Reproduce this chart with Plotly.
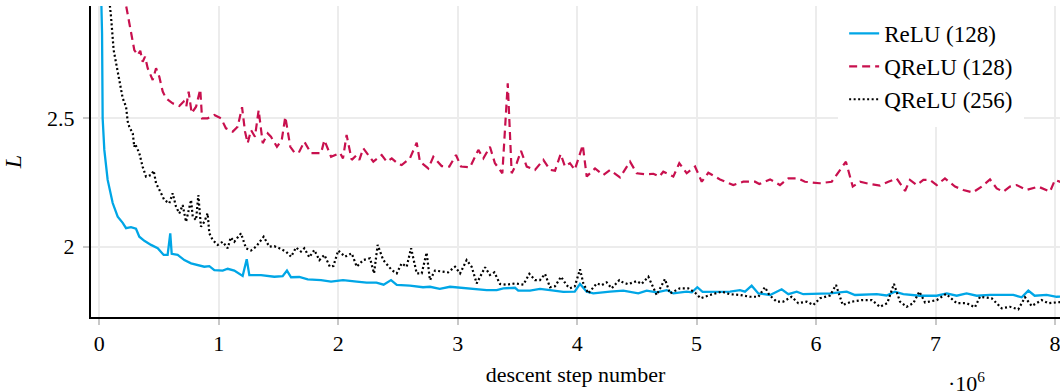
import plotly.graph_objects as go

# ---- data ----
relu_x = [0.0, 0.012, 0.023, 0.028, 0.042, 0.07, 0.112, 0.154, 0.196, 0.224, 0.265, 0.307, 0.335, 0.377,
          0.433, 0.489, 0.539, 0.572, 0.594, 0.606, 0.656, 0.712, 0.768, 0.824, 0.879, 0.921, 0.963, 1.033,
          1.075, 1.13, 1.20, 1.234, 1.256, 1.354, 1.465, 1.535, 1.571, 1.605, 1.674, 1.745, 1.856, 1.94,
          2.04, 2.155, 2.238, 2.32, 2.38, 2.442, 2.49, 2.60, 2.71, 2.768, 2.85, 2.936, 3.047, 3.13, 3.243,
          3.327, 3.382, 3.48, 3.507, 3.605, 3.689, 3.773, 3.884, 3.98, 4.024, 4.08, 4.135, 4.275, 4.386,
          4.512, 4.582, 4.666, 4.75, 4.805, 4.917, 4.96, 5.006, 5.05, 5.196, 5.28, 5.363, 5.405, 5.461,
          5.517, 5.615, 5.712, 5.768, 5.838, 5.893, 6.033, 6.117, 6.257, 6.326, 6.508, 6.59, 6.66, 6.73,
          6.87, 7.01, 7.094, 7.177, 7.26, 7.345, 7.456, 7.54, 7.651, 7.721, 7.777, 7.83, 7.93, 8.014, 8.06]
relu_y = [3.7, 3.05, 2.83, 2.50, 2.377, 2.26, 2.17, 2.117, 2.093, 2.072, 2.076, 2.070, 2.039, 2.023,
          2.007, 1.994, 1.968, 1.968, 2.052, 1.972, 1.968, 1.948, 1.935, 1.929, 1.922, 1.924, 1.909, 1.907,
          1.914, 1.907, 1.886, 1.951, 1.889, 1.889, 1.883, 1.885, 1.907, 1.881, 1.882, 1.873, 1.870, 1.864,
          1.870, 1.864, 1.860, 1.860, 1.852, 1.870, 1.851, 1.848, 1.842, 1.844, 1.836, 1.844, 1.839, 1.834, 1.831,
          1.831, 1.838, 1.840, 1.829, 1.829, 1.836, 1.831, 1.824, 1.825, 1.855, 1.825, 1.818, 1.825, 1.829,
          1.818, 1.829, 1.822, 1.831, 1.818, 1.825, 1.822, 1.842, 1.824, 1.825, 1.825, 1.831, 1.825, 1.848,
          1.818, 1.812, 1.834, 1.815, 1.825, 1.815, 1.818, 1.818, 1.825, 1.812, 1.815, 1.810, 1.825, 1.815,
          1.809, 1.809, 1.818, 1.809, 1.818, 1.809, 1.812, 1.812, 1.812, 1.803, 1.829, 1.809, 1.812, 1.805, 1.806]

qrelu128_x = [0.0, 0.1, 0.18, 0.224, 0.238, 0.265, 0.293, 0.321, 0.343, 0.363, 0.383, 0.405, 0.447, 0.475,
              0.502, 0.531, 0.558, 0.614, 0.67, 0.706, 0.728, 0.748, 0.773, 0.81, 0.845, 0.86, 0.907, 0.963,
              1.019, 1.06, 1.117, 1.158, 1.195, 1.22, 1.242, 1.27, 1.303, 1.334, 1.368, 1.41, 1.437, 1.487,
              1.527, 1.557, 1.599, 1.638, 1.674, 1.716, 1.772, 1.856, 1.884, 1.94, 1.973, 2.015, 2.04, 2.07,
              2.113, 2.15, 2.177, 2.21, 2.252, 2.294, 2.364, 2.406, 2.448, 2.503, 2.531, 2.60, 2.657, 2.684,
              2.754, 2.796, 2.866, 2.93, 2.986, 3.028, 3.103, 3.173, 3.215, 3.27, 3.312, 3.374, 3.419, 3.452,
              3.494, 3.53, 3.578, 3.647, 3.717, 3.773, 3.815, 3.862, 3.898, 3.94, 3.98, 4.047, 4.08, 4.15,
              4.219, 4.275, 4.359, 4.443, 4.499, 4.568, 4.638, 4.688, 4.721, 4.805, 4.855, 4.917, 4.987, 5.043,
              5.098, 5.196, 5.307, 5.391, 5.489, 5.525, 5.615, 5.698, 5.768, 5.851, 5.907, 6.03, 6.131, 6.20,
              6.25, 6.307, 6.368, 6.452, 6.535, 6.605, 6.675, 6.745, 6.786, 6.842, 6.898, 6.954, 7.01, 7.079,
              7.163, 7.233, 7.311, 7.386, 7.456, 7.512, 7.567, 7.623, 7.679, 7.763, 7.86, 7.958, 8.0, 8.06]
qrelu128_y = [4.5, 3.4, 3.05, 2.935, 2.896, 2.831, 2.766, 2.746, 2.763, 2.720, 2.740, 2.695, 2.649, 2.695,
              2.662, 2.604, 2.578, 2.558, 2.548, 2.565, 2.545, 2.604, 2.520, 2.545, 2.613, 2.500, 2.500, 2.513,
              2.500, 2.461, 2.448, 2.467, 2.543, 2.448, 2.403, 2.454, 2.428, 2.532, 2.403, 2.441, 2.428, 2.389,
              2.415, 2.506, 2.389, 2.364, 2.370, 2.409, 2.364, 2.364, 2.415, 2.350, 2.357, 2.365, 2.344, 2.435,
              2.338, 2.355, 2.338, 2.383, 2.357, 2.331, 2.357, 2.331, 2.344, 2.322, 2.318, 2.344, 2.405, 2.331,
              2.305, 2.350, 2.314, 2.312, 2.357, 2.312, 2.309, 2.377, 2.344, 2.389, 2.325, 2.286, 2.636, 2.286,
              2.325, 2.373, 2.312, 2.299, 2.338, 2.299, 2.296, 2.361, 2.312, 2.325, 2.299, 2.396, 2.273, 2.305,
              2.279, 2.299, 2.270, 2.331, 2.286, 2.282, 2.284, 2.273, 2.292, 2.273, 2.325, 2.286, 2.312, 2.253,
              2.288, 2.262, 2.240, 2.253, 2.253, 2.244, 2.262, 2.240, 2.266, 2.266, 2.253, 2.247, 2.253, 2.299,
              2.331, 2.234, 2.253, 2.244, 2.238, 2.253, 2.266, 2.217, 2.260, 2.240, 2.260, 2.260, 2.240, 2.266,
              2.234, 2.221, 2.211, 2.234, 2.262, 2.227, 2.214, 2.234, 2.240, 2.221, 2.234, 2.214, 2.260, 2.25]

qrelu256_x = [0.0, 0.04, 0.084, 0.098, 0.12, 0.154, 0.182, 0.196, 0.224, 0.238, 0.251, 0.28, 0.293, 0.30,
              0.335, 0.363, 0.391, 0.433, 0.455, 0.475, 0.517, 0.544, 0.586, 0.614, 0.642, 0.67, 0.698, 0.726,
              0.768, 0.782, 0.81, 0.829, 0.851, 0.879, 0.907, 0.921, 0.949, 0.991, 1.033, 1.075, 1.10, 1.13,
              1.158, 1.186, 1.228, 1.27, 1.312, 1.376, 1.423, 1.465, 1.507, 1.563, 1.605, 1.647, 1.688, 1.716,
              1.758, 1.80, 1.842, 1.884, 1.93, 1.96, 2.0, 2.057, 2.113, 2.155, 2.21, 2.266, 2.30, 2.33, 2.377,
              2.448, 2.49, 2.531, 2.573, 2.61, 2.657, 2.699, 2.74, 2.768, 2.81, 2.88, 2.92, 2.978, 3.02, 3.075,
              3.117, 3.159, 3.229, 3.27, 3.307, 3.354, 3.41, 3.48, 3.55, 3.60, 3.647, 3.689, 3.731, 3.773,
              3.815, 3.865, 3.912, 3.94, 3.98, 4.024, 4.052, 4.093, 4.164, 4.205, 4.247, 4.289, 4.353, 4.386,
              4.428, 4.499, 4.54, 4.596, 4.666, 4.735, 4.777, 4.861, 4.93, 4.987, 5.034, 5.112, 5.21, 5.28,
              5.363, 5.447, 5.517, 5.572, 5.609, 5.67, 5.726, 5.796, 5.851, 5.922, 5.977, 6.033, 6.117, 6.167,
              6.223, 6.298, 6.382, 6.466, 6.535, 6.596, 6.652, 6.703, 6.759, 6.814, 6.864, 6.912, 7.01, 7.088,
              7.177, 7.26, 7.33, 7.372, 7.47, 7.554, 7.623, 7.693, 7.749, 7.805, 7.889, 7.944, 8.028, 8.06]
qrelu256_y = [4.2, 3.35, 2.96, 2.896, 2.766, 2.688, 2.623, 2.578, 2.545, 2.487, 2.467, 2.441, 2.389, 2.40,
              2.364, 2.311, 2.273, 2.279, 2.296, 2.247, 2.208, 2.182, 2.169, 2.208, 2.156, 2.130, 2.162, 2.097,
              2.182, 2.117, 2.104, 2.201, 2.078, 2.097, 2.130, 2.052, 2.026, 2.007, 2.019, 1.994, 2.036, 2.019,
              2.036, 2.052, 1.994, 1.985, 2.000, 2.039, 2.000, 2.002, 1.994, 1.981, 1.961, 1.997, 1.981, 1.994,
              1.959, 1.987, 1.948, 1.968, 1.922, 1.925, 1.985, 1.961, 1.974, 1.922, 1.948, 1.955, 1.896, 2.007, 1.948,
              1.909, 1.896, 1.935, 1.922, 1.994, 1.896, 1.896, 1.977, 1.870, 1.907, 1.903, 1.900, 1.922, 1.896, 1.948,
              1.922, 1.857, 1.920, 1.890, 1.900, 1.855, 1.852, 1.857, 1.852, 1.894, 1.870, 1.870, 1.894, 1.842,
              1.846, 1.883, 1.850, 1.838, 1.845, 1.912, 1.857, 1.818, 1.857, 1.850, 1.861, 1.838, 1.870, 1.860,
              1.854, 1.866, 1.855, 1.883, 1.812, 1.874, 1.818, 1.838, 1.838, 1.821, 1.799, 1.812, 1.825, 1.815,
              1.812, 1.805, 1.805, 1.842, 1.812, 1.786, 1.786, 1.805, 1.780, 1.786, 1.773, 1.799, 1.810, 1.851,
              1.773, 1.786, 1.792, 1.792, 1.766, 1.780, 1.855, 1.786, 1.766, 1.780, 1.825, 1.783, 1.792, 1.816,
              1.780, 1.780, 1.764, 1.805, 1.799, 1.760, 1.766, 1.756, 1.803, 1.769, 1.792, 1.780, 1.783, 1.785]

series_names = ["ReLU (128)", "QReLU (128)", "QReLU (256)"]
x_ticks = [0, 1, 2, 3, 4, 5, 6, 7, 8]
y_ticks = [2, 2.5]
y_tick_text = ["2", "2.5"]

FONT = "Liberation Serif, Times New Roman, serif"
BLUE = "#00A6E6"
RED = "#C8104E"

fig = go.Figure()
fig.add_trace(go.Scatter(x=relu_x, y=relu_y, mode="lines", name=series_names[0],
                         line=dict(color=BLUE, width=2.3)))
fig.add_trace(go.Scatter(x=qrelu128_x, y=qrelu128_y, mode="lines", name=series_names[1],
                         line=dict(color=RED, width=2.2, dash="8px,5px")))
fig.add_trace(go.Scatter(x=qrelu256_x, y=qrelu256_y, mode="lines", name=series_names[2],
                         line=dict(color="black", width=2.2, dash="2px,2.5px")))

axis_common = dict(
    showgrid=True, gridcolor="#ececec", gridwidth=1.5, zeroline=False,
    showline=True, linecolor="black", linewidth=2, mirror=False,
    ticks="outside", ticklen=6, tickcolor="#c8c8c8", tickwidth=1.5,
    tickfont=dict(family=FONT, size=22, color="black"),
    ticklabeloverflow="allow",
)

fig.update_layout(
    width=1060, height=391, autosize=False,
    margin=dict(l=91, r=0, t=6, b=74, pad=0),
    paper_bgcolor="white", plot_bgcolor="white",
    font=dict(family=FONT, size=22, color="black"),
    showlegend=True,
    legend=dict(x=0.963, y=1.0, xanchor="right", yanchor="top",
                bgcolor="white", bordercolor="white", borderwidth=6,
                font=dict(family=FONT, size=23, color="black"),
                tracegroupgap=0),
    xaxis=dict(range=[-0.0695, 8.042], tickvals=x_ticks, ticktext=[str(v) for v in x_ticks],
               title=dict(text="descent step number", font=dict(family=FONT, size=22), standoff=11),
               **axis_common),
    yaxis=dict(range=[1.7262, 2.9373], tickvals=y_ticks, ticktext=y_tick_text,
               ticklabelstandoff=4,
               title=dict(text="<i>L</i>", font=dict(family=FONT, size=24), standoff=20),
               **axis_common),
)

fig.add_annotation(text="·10<sup>6</sup>", xref="paper", yref="paper",
                   x=0.904, y=-0.158, xanchor="center", yanchor="top", showarrow=False,
                   font=dict(family=FONT, size=22, color="black"))

fig.write_html("out.html",
               config={"displayModeBar": False},
               post_script="document.body.style.margin='0px';document.body.style.padding='0px';"
                           "document.body.style.overflow='hidden';")
